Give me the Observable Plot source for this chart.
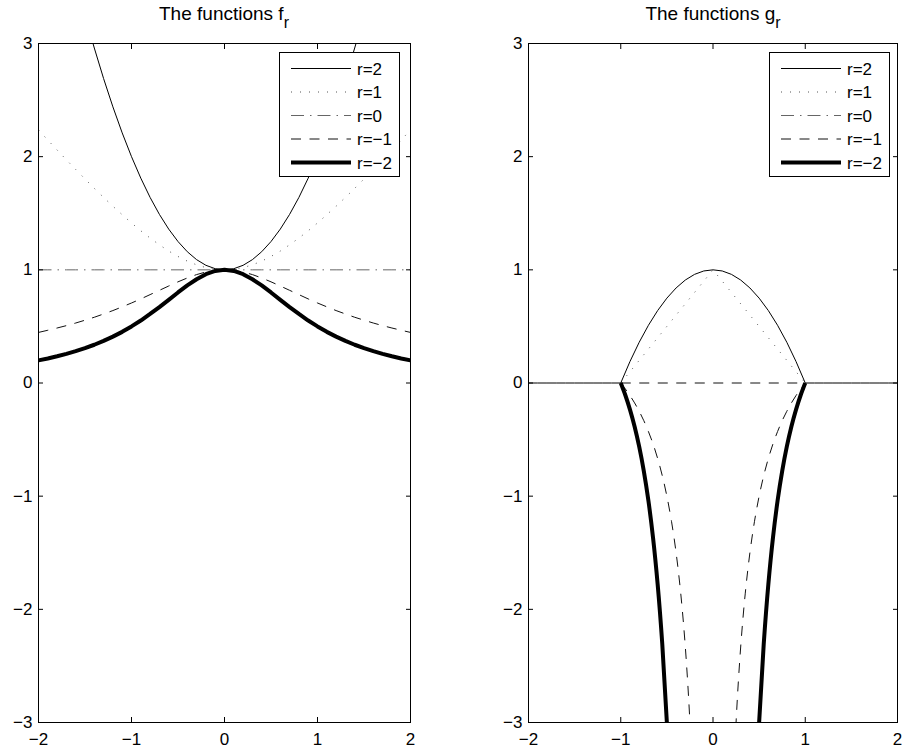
<!DOCTYPE html>
<html>
<head>
<meta charset="utf-8">
<script src="https://cdn.jsdelivr.net/npm/d3@7"></script>
<script src="https://cdn.jsdelivr.net/npm/@observablehq/plot@0.6"></script>
<style>
  html, body { margin: 0; padding: 0; background: #fff; }
  #root { position: relative; width: 902px; height: 751px; overflow: hidden; background: #fff;
          font-family: "Liberation Sans", Arial, Helvetica, sans-serif; }
  .panel { position: absolute; top: 0; }
  .panel svg { overflow: visible; }
  #overlay { position: absolute; left: 0; top: 0; pointer-events: none; }
</style>
</head>
<body>
<div id="root">
  <div class="panel" id="left" style="left:0px"></div>
  <div class="panel" id="right" style="left:451px"></div>
  <svg id="overlay" width="902" height="751"></svg>
</div>
<script>
// ---------- data ----------
const xGrid = [-2,-1.9,-1.8,-1.7,-1.6,-1.5,-1.4,-1.3,-1.2,-1.1,-1,-0.9,-0.8,-0.7,-0.6,-0.5,-0.4,-0.3,-0.2,-0.1,0,
               0.1,0.2,0.3,0.4,0.5,0.6,0.7,0.8,0.9,1,1.1,1.2,1.3,1.4,1.5,1.6,1.7,1.8,1.9,2];

// left panel: the functions f_r
const fR2  = [5,4.61,4.24,3.89,3.56,3.25,2.96,2.69,2.44,2.21,2,1.81,1.64,1.49,1.36,1.25,1.16,1.09,1.04,1.01,1,
              1.01,1.04,1.09,1.16,1.25,1.36,1.49,1.64,1.81,2,2.21,2.44,2.69,2.96,3.25,3.56,3.89,4.24,4.61,5];
const fR1  = [2.236,2.147,2.059,1.972,1.887,1.803,1.720,1.640,1.562,1.487,1.414,1.345,1.281,1.221,1.166,1.118,1.077,1.044,1.020,1.005,1,
              1.005,1.020,1.044,1.077,1.118,1.166,1.221,1.281,1.345,1.414,1.487,1.562,1.640,1.720,1.803,1.887,1.972,2.059,2.147,2.236];
const fR0  = [1,1,1,1,1,1,1,1,1,1,1,1,1,1,1,1,1,1,1,1,1,1,1,1,1,1,1,1,1,1,1,1,1,1,1,1,1,1,1,1,1];
const fRm1 = [0.447,0.466,0.486,0.507,0.530,0.555,0.581,0.610,0.640,0.673,0.707,0.743,0.781,0.819,0.857,0.894,0.928,0.958,0.981,0.995,1,
              0.995,0.981,0.958,0.928,0.894,0.857,0.819,0.781,0.743,0.707,0.673,0.640,0.610,0.581,0.555,0.530,0.507,0.486,0.466,0.447];
const fRm2 = [0.2,0.217,0.236,0.257,0.281,0.308,0.338,0.372,0.410,0.452,0.5,0.552,0.610,0.671,0.735,0.8,0.862,0.917,0.962,0.990,1,
              0.990,0.962,0.917,0.862,0.8,0.735,0.671,0.610,0.552,0.5,0.452,0.410,0.372,0.338,0.308,0.281,0.257,0.236,0.217,0.2];

// right panel: the functions g_r
const gR2  = [0,0,0,0,0,0,0,0,0,0,0,0.19,0.36,0.51,0.64,0.75,0.84,0.91,0.96,0.99,1,
              0.99,0.96,0.91,0.84,0.75,0.64,0.51,0.36,0.19,0,0,0,0,0,0,0,0,0,0,0];
const gxR1 = [-1,0,1];
const gR1  = [0,1,0];
const gxR0 = [-1,1];
const gR0  = [0,0];
const gxRm1 = [-1,-0.95,-0.9,-0.85,-0.8,-0.75,-0.7,-0.65,-0.6,-0.55,-0.5,-0.45,-0.4,-0.35,-0.3,-0.25,-0.2,-0.15,NaN,
               0.15,0.2,0.25,0.3,0.35,0.4,0.45,0.5,0.55,0.6,0.65,0.7,0.75,0.8,0.85,0.9,0.95,1];
const gRm1  = [0,-0.053,-0.111,-0.176,-0.25,-0.333,-0.429,-0.538,-0.667,-0.818,-1,-1.222,-1.5,-1.857,-2.333,-3,-4,-5.667,NaN,
               -5.667,-4,-3,-2.333,-1.857,-1.5,-1.222,-1,-0.818,-0.667,-0.538,-0.429,-0.333,-0.25,-0.176,-0.111,-0.053,0];
const gxRm2 = [-1,-0.95,-0.9,-0.85,-0.8,-0.75,-0.7,-0.65,-0.6,-0.55,-0.5,-0.45,-0.4,NaN,
               0.4,0.45,0.5,0.55,0.6,0.65,0.7,0.75,0.8,0.85,0.9,0.95,1];
const gRm2  = [0,-0.108,-0.235,-0.384,-0.563,-0.778,-1.041,-1.367,-1.778,-2.306,-3,-3.938,-5.25,NaN,
               -5.25,-3.938,-3,-2.306,-1.778,-1.367,-1.041,-0.778,-0.563,-0.384,-0.235,-0.108,0];

const seriesLabels = ["r=2", "r=1", "r=0", "r=\u22121", "r=\u22122"];
const xTicks = [-2, -1, 0, 1, 2];
const yTicks = [-3, -2, -1, 0, 1, 2, 3];
const titleMain = ["The functions f", "The functions g"];
const titleSub = "r";

// ---------- styles ----------
const lineStyles = [
  {stroke: "#000", strokeWidth: 1},
  {stroke: "#555", strokeWidth: 1, strokeDasharray: "1 8"},
  {stroke: "#666", strokeWidth: 1, strokeDasharray: "13 6 1.5 6"},
  {stroke: "#111", strokeWidth: 1, strokeDasharray: "10 8.5"},
  {stroke: "#000", strokeWidth: 4}
];

const FONT = "\"Liberation Sans\", Arial, Helvetica, sans-serif";
const fmt = d => (d < 0 ? "\u2212" + Math.abs(d) : String(d));

function makePanel(series, width, marginLeft, marginRight) {
  const marks = series.map(s => Plot.line({length: s.x.length}, {
    x: s.x, y: s.y, curve: s.curve || "linear", clip: true,
    strokeLinecap: "butt", strokeLinejoin: "round", ...s.style
  }));
  return Plot.plot({
    width, height: 751,
    marginTop: 43, marginBottom: 29, marginLeft, marginRight,
    style: {fontFamily: FONT, fontSize: "17px", color: "#000", background: "transparent", overflow: "visible"},
    x: {domain: [-2, 2], label: null},
    y: {domain: [-3, 3], label: null},
    marks: [
      ...marks,
      Plot.axisX(xTicks, {anchor: "bottom", tickSize: 0, tickPadding: 10, fontSize: 17, tickFormat: fmt, label: null}),
      Plot.axisY(yTicks, {anchor: "left", tickSize: 0, tickPadding: 6, fontSize: 17, tickFormat: fmt, label: null}),
      Plot.axisX(xTicks, {anchor: "bottom", tickSize: -5, tickFormat: () => "", label: null}),
      Plot.axisX(xTicks, {anchor: "top", tickSize: -5, tickFormat: () => "", label: null}),
      Plot.axisY(yTicks, {anchor: "left", tickSize: -5, tickFormat: () => "", label: null}),
      Plot.axisY(yTicks, {anchor: "right", tickSize: -5, tickFormat: () => "", label: null}),
      Plot.frame({stroke: "#000", strokeWidth: 1})
    ]
  });
}

const leftSeries = [
  {x: xGrid, y: fR2,  style: lineStyles[0]},
  {x: xGrid, y: fR1,  style: lineStyles[1]},
  {x: xGrid, y: fR0,  style: lineStyles[2]},
  {x: xGrid, y: fRm1, style: lineStyles[3]},
  {x: xGrid, y: fRm2, style: lineStyles[4]}
];
const rightSeries = [
  {x: xGrid, y: gR2,  style: lineStyles[0]},
  {x: gxR1,  y: gR1,  style: lineStyles[1]},
  {x: gxR0,  y: gR0,  style: lineStyles[3]},
  {x: gxRm1, y: gRm1, style: lineStyles[3], curve: "catmull-rom"},
  {x: gxRm2, y: gRm2, style: lineStyles[4], curve: "catmull-rom"}
];

document.getElementById("left").appendChild(makePanel(leftSeries, 451, 38, 41));
document.getElementById("right").appendChild(makePanel(rightSeries, 451, 77, 5));

// ---------- titles and legends ----------
const ov = d3.select("#overlay").style("font-family", FONT);
[[224, 0], [713, 1]].forEach(([cx, i]) => {
  const t = ov.append("text").attr("x", cx).attr("y", 20).attr("text-anchor", "middle")
    .attr("font-size", 19).attr("fill", "#000");
  t.append("tspan").text(titleMain[i]);
  t.append("tspan").attr("dy", 8).attr("font-size", 16).text(titleSub);
});

function legend(x0, y0) {
  const g = ov.append("g").attr("transform", `translate(${x0},${y0})`);
  g.append("rect").attr("x", 0.5).attr("y", 0.5).attr("width", 120).attr("height", 124)
    .attr("fill", "#fff").attr("stroke", "#000").attr("stroke-width", 1);
  const rowY = [16.5, 40, 63.5, 87, 110.5];
  seriesLabels.forEach((lab, i) => {
    const s = lineStyles[i];
    g.append("line").attr("x1", 12).attr("x2", 72).attr("y1", rowY[i]).attr("y2", rowY[i])
      .attr("stroke", s.stroke).attr("stroke-width", s.strokeWidth)
      .attr("stroke-dasharray", s.strokeDasharray || null);
    g.append("text").attr("x", 78).attr("y", rowY[i] + 6).attr("font-size", 17)
      .attr("fill", "#000").text(lab);
  });
}
legend(279, 52);
legend(769, 52);
</script>
</body>
</html>
